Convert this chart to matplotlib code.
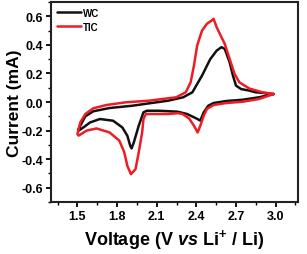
import matplotlib
matplotlib.use("Agg")
import matplotlib.pyplot as plt
from matplotlib.ticker import MultipleLocator

plt.rcParams['font.family'] = ['Liberation Sans', 'DejaVu Sans']
plt.rcParams['font.weight'] = 'bold'
plt.rcParams['mathtext.fontset'] = 'custom'
plt.rcParams['mathtext.rm'] = 'Liberation Sans:bold'
plt.rcParams['mathtext.it'] = 'Liberation Sans:bold:italic'
plt.rcParams['mathtext.bf'] = 'Liberation Sans:bold'

# WC (black) closed CV loop: cathodic sweep 3.0 -> 1.5, then anodic 1.5 -> 3.0
wc_v = [2.985, 2.873, 2.75, 2.627, 2.53, 2.49, 2.456, 2.43, 2.40, 2.382, 2.33, 2.26, 2.185,
        2.11, 2.026, 2.00, 1.964, 1.927, 1.91, 1.90, 1.878, 1.84, 1.77, 1.67, 1.596, 1.55, 1.51,
        1.505, 1.522, 1.56, 1.62, 1.743, 1.915, 2.06, 2.185, 2.30, 2.37, 2.443, 2.505, 2.554,
        2.59, 2.615, 2.652, 2.677, 2.70, 2.738, 2.80, 2.85, 2.93, 2.985]
wc_i = [0.056, 0.033, 0.016, 0.007, -0.007, -0.026, -0.072, -0.130, -0.115, -0.107, -0.084, -0.068, -0.064,
        -0.061, -0.061, -0.072, -0.166, -0.283, -0.325, -0.307, -0.236, -0.178, -0.131, -0.119, -0.143, -0.175, -0.200,
        -0.195, -0.166, -0.100, -0.065, -0.042, -0.026, -0.007, 0.009, 0.033, 0.068, 0.185, 0.300, 0.360,
        0.384, 0.372, 0.278, 0.185, 0.115, 0.091, 0.080, 0.068, 0.062, 0.056]

# TIC (red) closed CV loop
tic_v = [2.985, 2.873, 2.75, 2.627, 2.53, 2.48, 2.456, 2.43, 2.41, 2.382, 2.345, 2.296, 2.26,
         2.185, 2.10, 2.018, 2.00, 1.99, 1.964, 1.94, 1.905, 1.878, 1.854, 1.817, 1.743, 1.645,
         1.57, 1.51,
         1.50, 1.522, 1.56, 1.62, 1.72, 1.866, 2.04, 2.185, 2.247, 2.32, 2.357, 2.382, 2.406,
         2.443, 2.48, 2.517, 2.53, 2.554, 2.578, 2.615, 2.652, 2.689, 2.726, 2.80, 2.90, 2.985]
tic_i = [0.056, 0.021, 0.002, -0.007, -0.021, -0.049, -0.096, -0.166, -0.213, -0.166, -0.115, -0.084, -0.078,
         -0.084, -0.084, -0.084, -0.119, -0.213, -0.353, -0.470, -0.505, -0.447, -0.350, -0.270, -0.213, -0.185,
         -0.200, -0.235,
         -0.225, -0.143, -0.084, -0.044, -0.021, -0.002, 0.009, 0.026, 0.033, 0.068, 0.138, 0.255, 0.395,
         0.500, 0.548, 0.571, 0.583, 0.524, 0.477, 0.407, 0.302, 0.197, 0.138, 0.095, 0.068, 0.056]

labels = ['WC', 'TIC']
colors = ['#111111', '#ee1c24']

fig = plt.figure(figsize=(3.07, 2.55), dpi=100)
ax = fig.add_axes([0.166, 0.204, 0.805, 0.784])
ax.plot(wc_v, wc_i, color=colors[0], lw=1.8, label=labels[0],
        solid_joinstyle='round', solid_capstyle='round')
ax.plot(tic_v, tic_i, color=colors[1], lw=1.8, label=labels[1],
        solid_joinstyle='round', solid_capstyle='round')

ax.set_xlim(1.3, 3.17)
ax.set_ylim(-0.7, 0.7)
ax.xaxis.set_minor_locator(MultipleLocator(0.15))
ax.yaxis.set_minor_locator(MultipleLocator(0.1))
ax.set_xticks([1.5, 1.8, 2.1, 2.4, 2.7, 3.0])
ax.set_xticklabels(['1.5', '1.8', '2.1', '2.4', '2.7', '3.0'])
ax.set_yticks([-0.6, -0.4, -0.2, 0.0, 0.2, 0.4, 0.6])
ax.set_yticklabels(['-0.6', '-0.4', '-0.2', '0.0', '0.2', '0.4', '0.6'])

for s in ax.spines.values():
    s.set_linewidth(1.5)
    s.set_color('#222222')
ax.tick_params(which='major', direction='out', length=3.5, width=1.3, labelsize=9, pad=2)
ax.tick_params(which='minor', direction='out', length=2, width=1.0)
for t in ax.get_xticklabels() + ax.get_yticklabels():
    t.set_fontweight('bold')

ax.set_xlabel(r'Voltage (V $\it{vs}$ Li$^{+}$ / Li)', fontsize=13, fontweight='bold', labelpad=4)
ax.set_ylabel('Current (mA)', fontsize=12.5, fontweight='bold')
ax.yaxis.set_label_coords(-0.118, 0.5)

leg = ax.legend(loc='upper left', frameon=False, handlelength=2.5,
                handletextpad=0.15, borderaxespad=0.2, labelspacing=0.4,
                prop={'family': ['Liberation Sans', 'DejaVu Sans'],
                      'weight': 'bold', 'size': 7})

fig.savefig('out.png', dpi=100)
